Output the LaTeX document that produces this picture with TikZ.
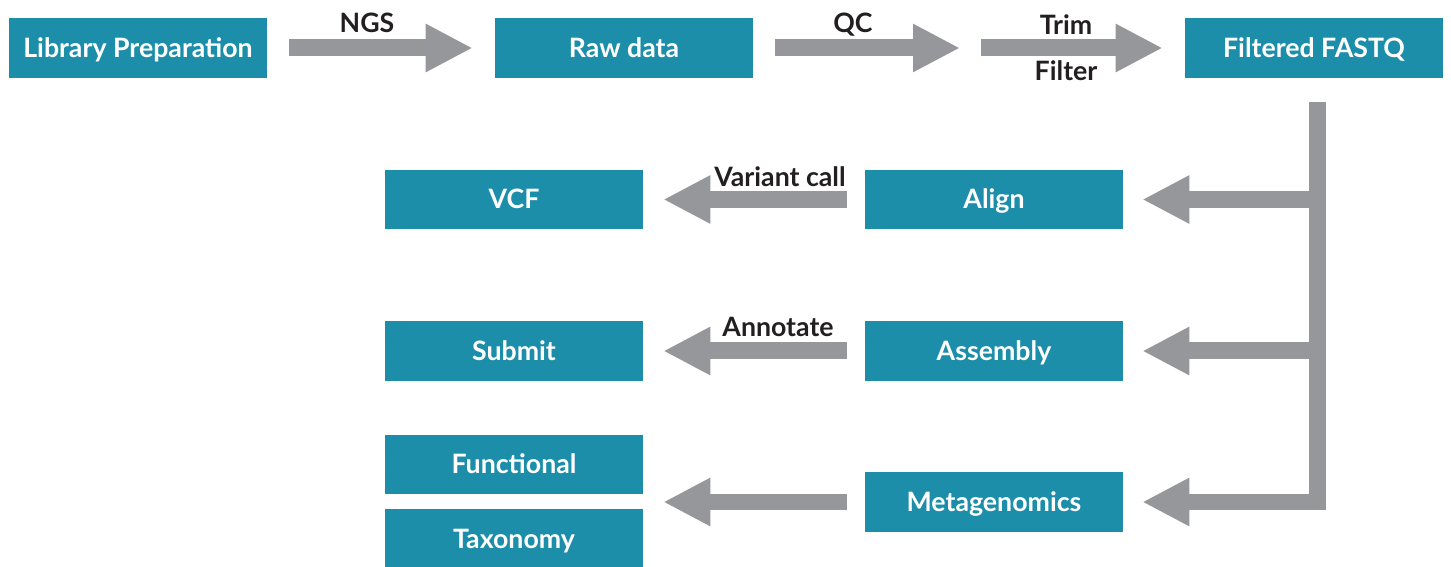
\documentclass[tikz,border=0pt]{standalone}
\usepackage{fontspec}
\setmainfont{Lato}
\usepackage{xcolor}
\usepackage{tikz}
\usetikzlibrary{arrows.meta}

\definecolor{boxteal}{RGB}{28,142,169}
\definecolor{flowgray}{RGB}{150,151,155}
\definecolor{labelink}{RGB}{35,31,32}

\begin{document}
\begin{tikzpicture}[x=0.02cm, y=-0.02cm,
  stepbox/.style={rectangle, fill=boxteal, inner sep=0pt, minimum width=5.16cm, minimum height=1.2cm,
    text=white, font=\fontsize{15.2}{18}\selectfont\bfseries, text height=1.05em, text depth=0pt},
  flow/.style={draw=flowgray, line width=0.34cm, line join=miter, -{Triangle[length=0.94cm, width=0.9cm]}},
  flowlabel/.style={anchor=base, text=labelink, font=\fontsize{15.2}{18}\selectfont\bfseries}]
\useasboundingbox (0,0) rectangle (1451,567);
% top row
\node[stepbox] (library) at (138,48) {Library Preparation};
\node[stepbox] (raw) at (624,48) {Raw data};
\node[stepbox] (fastq) at (1314,48) {Filtered FASTQ};
\coordinate (trimmed) at (970.5,48);
% analysis branches
\node[stepbox] (align) at (994,199.5) {Align};
\node[stepbox] (assembly) at (994,351) {Assembly};
\node[stepbox] (meta) at (994,502) {Metagenomics};
\node[stepbox] (vcf) at (514,199.5) {VCF};
\node[stepbox] (submit) at (514,351) {Submit};
\node[stepbox] (functional) at (514,464.5) {Functional};
\node[stepbox] (taxonomy) at (514,539) {Taxonomy};
\coordinate (trunk) at (1317,502);

\draw[flow, shorten <=0.44cm, shorten >=0.44cm] (library) -- (raw);
\draw[flow, shorten <=0.44cm, shorten >=0.21cm] (raw) -- (trimmed);
\draw[flow, shorten <=0.21cm, shorten >=0.44cm] (trimmed) -- (fastq);
\draw[flow, shorten <=0.48cm, shorten >=0.38cm] (fastq.south -| trunk) -- (trunk) -- (meta);
\draw[flow, shorten >=0.38cm] (align -| trunk) -- (align);
\draw[flow, shorten >=0.38cm] (assembly -| trunk) -- (assembly);
\draw[flow, shorten <=0.36cm, shorten >=0.4cm] (align) -- (vcf);
\draw[flow, shorten <=0.36cm, shorten >=0.4cm] (assembly) -- (submit);
\draw[flow, shorten <=0.36cm, shorten >=0.4cm] (meta) -- (meta -| functional.east);

\node[flowlabel] (ngs) at (367,33) {NGS};
\node[flowlabel] (qc) at (853,33) {QC};
\node[flowlabel] (trim) at (1066,35) {Trim};
\node[flowlabel] (filter) at (1066,81) {Filter};
\node[flowlabel] (variant) at (780,187) {Variant call};
\node[flowlabel] (annotate) at (778,337) {Annotate};
\end{tikzpicture}
\end{document}
